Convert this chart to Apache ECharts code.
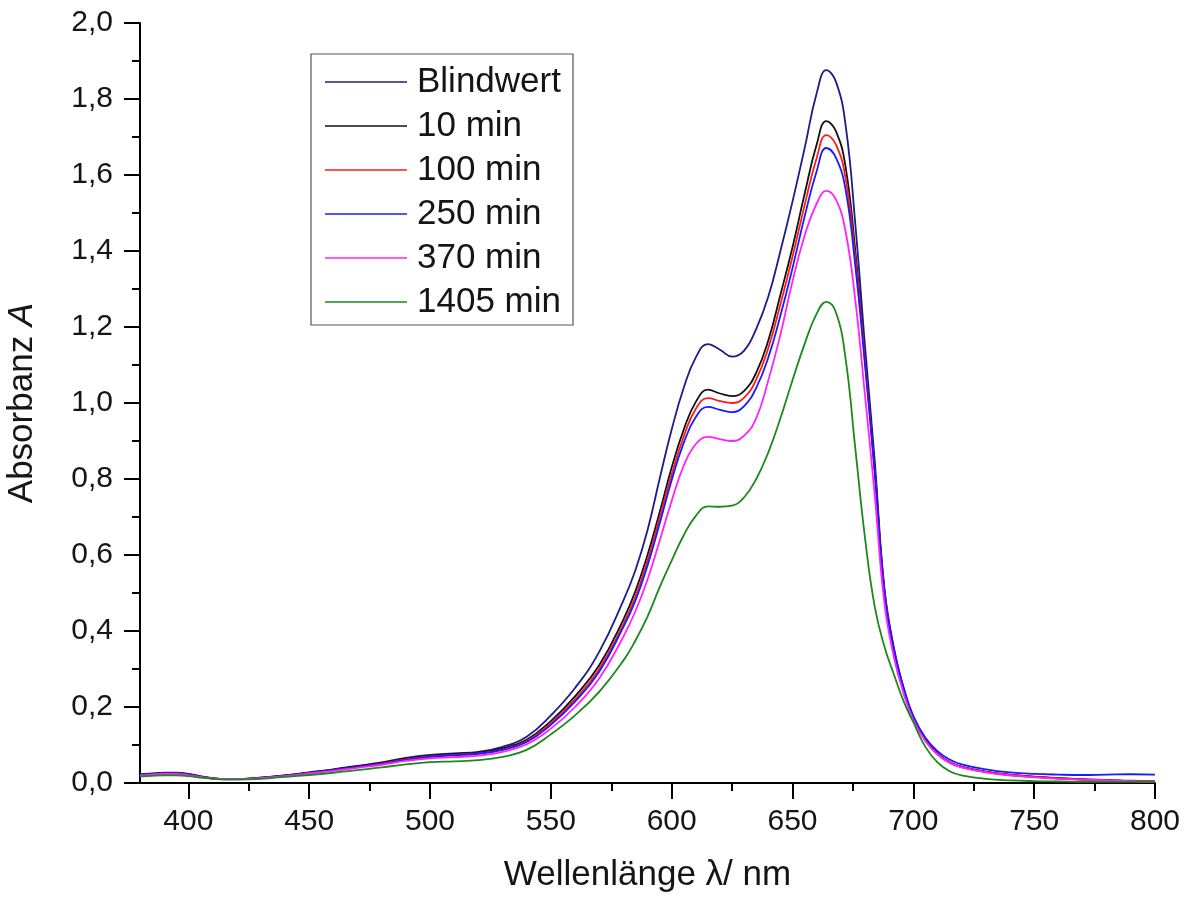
<!DOCTYPE html>
<html>
<head>
<meta charset="utf-8">
<title>Absorbanz</title>
<script src="https://cdn.jsdelivr.net/npm/echarts@6/dist/echarts.min.js"></script>
<style>
  html, body { margin: 0; padding: 0; background: #ffffff; }
  #chart { width: 1188px; height: 897px; }
</style>
</head>
<body>
<div id="chart"></div>
<script>
// Wellenlängen (nm) der Stützstellen
const wavelengths = [380,385,390,395,400,405,410,415,420,430,440,450,460,470,480,490,500,510,520,530,540,550,560,570,580,585,590,595,600,605,610,615,620,625,630,635,640,645,650,655,660,664,668,672,676,680,684,688,692,696,700,705,710,715,720,730,740,750,760,770,780,790,800];

// Absorbanz je Messzeitpunkt
const blindwert = [0.023,0.025,0.027,0.027,0.024,0.018,0.013,0.010,0.010,0.014,0.020,0.028,0.036,0.045,0.054,0.066,0.074,0.078,0.082,0.095,0.122,0.178,0.250,0.345,0.480,0.560,0.665,0.800,0.930,1.040,1.120,1.155,1.140,1.122,1.138,1.195,1.280,1.400,1.530,1.670,1.815,1.876,1.845,1.730,1.470,1.150,0.850,0.515,0.355,0.250,0.174,0.115,0.078,0.055,0.043,0.030,0.022,0.017,0.013,0.010,0.008,0.006,0.005];
const min10 = [0.022,0.024,0.026,0.026,0.023,0.017,0.012,0.010,0.010,0.014,0.020,0.027,0.035,0.044,0.053,0.064,0.072,0.076,0.080,0.091,0.114,0.163,0.228,0.310,0.430,0.505,0.600,0.712,0.830,0.930,1.003,1.035,1.025,1.018,1.032,1.080,1.165,1.285,1.410,1.550,1.680,1.742,1.715,1.620,1.400,1.120,0.830,0.505,0.345,0.245,0.172,0.113,0.077,0.054,0.042,0.029,0.021,0.016,0.012,0.009,0.007,0.005,0.004];
const min100 = [0.021,0.023,0.025,0.025,0.022,0.016,0.012,0.010,0.010,0.013,0.019,0.026,0.034,0.042,0.051,0.062,0.070,0.074,0.078,0.088,0.110,0.157,0.220,0.300,0.418,0.490,0.585,0.697,0.812,0.912,0.985,1.013,1.005,1.000,1.014,1.062,1.145,1.260,1.385,1.520,1.645,1.705,1.680,1.590,1.380,1.110,0.820,0.505,0.345,0.245,0.171,0.112,0.076,0.054,0.042,0.029,0.021,0.016,0.012,0.009,0.007,0.005,0.004];
const min250 = [0.021,0.023,0.025,0.025,0.022,0.016,0.012,0.010,0.010,0.013,0.019,0.026,0.034,0.042,0.050,0.061,0.069,0.073,0.077,0.087,0.108,0.153,0.214,0.293,0.410,0.480,0.572,0.682,0.797,0.895,0.963,0.990,0.982,0.976,0.992,1.040,1.120,1.230,1.355,1.490,1.610,1.671,1.645,1.560,1.360,1.100,0.820,0.505,0.350,0.250,0.176,0.119,0.084,0.062,0.049,0.036,0.028,0.024,0.022,0.021,0.022,0.023,0.022];
const min370 = [0.020,0.022,0.024,0.024,0.021,0.016,0.012,0.010,0.010,0.013,0.018,0.025,0.032,0.040,0.048,0.058,0.065,0.068,0.072,0.082,0.102,0.143,0.200,0.275,0.385,0.452,0.535,0.637,0.742,0.835,0.892,0.911,0.905,0.900,0.914,0.960,1.060,1.180,1.320,1.440,1.525,1.558,1.535,1.450,1.270,1.020,0.760,0.475,0.330,0.235,0.165,0.110,0.075,0.053,0.041,0.028,0.020,0.015,0.011,0.009,0.007,0.005,0.004];
const min1405 = [0.017,0.019,0.020,0.020,0.018,0.014,0.011,0.009,0.009,0.011,0.016,0.021,0.027,0.034,0.041,0.049,0.055,0.057,0.060,0.069,0.087,0.128,0.178,0.240,0.322,0.375,0.438,0.515,0.585,0.652,0.703,0.728,0.727,0.730,0.752,0.800,0.870,0.960,1.060,1.155,1.235,1.266,1.238,1.115,0.880,0.645,0.465,0.360,0.285,0.215,0.160,0.095,0.054,0.031,0.020,0.011,0.007,0.005,0.004,0.003,0.003,0.003,0.003];

const seriesNames = ['Blindwert', '10 min', '100 min', '250 min', '370 min', '1405 min'];
const seriesValues = [blindwert, min10, min100, min250, min370, min1405];
const seriesColors = ['#1c1c8a', '#111111', '#ff1a1a', '#1a1aff', '#ff22ff', '#1a8a1a'];

// Beschriftete und kleine Striche der Wellenlängenachse
const xMajorTicks = [400, 450, 500, 550, 600, 650, 700, 750, 800];
const xMinorTicks = [425, 475, 525, 575, 625, 675, 725, 775];

const FONT = '"Liberation Sans", Arial, sans-serif';
const INK = '#151515';

const chart = echarts.init(document.getElementById('chart'), null, { renderer: 'canvas' });

const series = seriesNames.map((name, k) => ({
  name: name,
  type: 'line',
  xAxisIndex: 0,
  yAxisIndex: 0,
  data: wavelengths.map((w, i) => [w, seriesValues[k][i]]),
  showSymbol: false,
  smooth: 0.45,
  lineStyle: { color: seriesColors[k], width: 1.8 },
  itemStyle: { color: seriesColors[k] },
  emphasis: { disabled: true },
  animation: false
}));

chart.setOption({
  backgroundColor: '#ffffff',
  animation: false,
  textStyle: { fontFamily: FONT },
  grid: { left: 140, right: 33, top: 23, bottom: 114, containLabel: false, outerBoundsMode: 'none' },
  legend: {
    data: seriesNames,
    orient: 'vertical',
    left: 311,
    top: 54,
    icon: 'path://M0,0 L100,0 L100,2 L0,2 Z',
    itemWidth: 82,
    itemHeight: 2,
    itemGap: 8,
    padding: [10, 12, 5, 14],
    borderColor: '#555555',
    borderWidth: 1.2,
    selectedMode: false,
    textStyle: {
      fontFamily: FONT,
      fontSize: 35,
      color: INK,
      lineHeight: 36,
      padding: [0, 0, 0, 5]
    }
  },
  xAxis: [
    {
      type: 'value',
      position: 'bottom',
      min: 380,
      max: 800,
      name: 'Wellenlänge λ/ nm',
      nameLocation: 'middle',
      nameMoveOverlap: false,
      nameGap: 75,
      nameTextStyle: { fontFamily: FONT, fontSize: 35, color: INK },
      axisLine: { show: true, onZero: false, lineStyle: { color: '#000', width: 2 } },
      axisTick: { show: true, inside: false, length: 16, customValues: xMajorTicks, lineStyle: { color: '#000', width: 2 } },
      axisLabel: { show: true, customValues: xMajorTicks, fontFamily: FONT, fontSize: 30, color: INK, margin: 24 },
      splitLine: { show: false }
    },
    {
      type: 'value',
      position: 'bottom',
      min: 380,
      max: 800,
      axisLine: { show: false, onZero: false },
      axisTick: { show: true, inside: false, length: 8, customValues: xMinorTicks, lineStyle: { color: '#000', width: 2 } },
      axisLabel: { show: false },
      splitLine: { show: false }
    }
  ],
  yAxis: {
    type: 'value',
    min: 0,
    max: 2,
    interval: 0.2,
    name: '{n|Absorbanz }{i|A}',
    nameLocation: 'middle',
    nameRotate: 90,
    nameMoveOverlap: false,
    nameGap: 100,
    nameTextStyle: {
      rich: {
        n: { fontFamily: FONT, fontSize: 35, color: INK },
        i: { fontFamily: FONT, fontSize: 35, fontStyle: 'italic', color: INK }
      }
    },
    axisLine: { show: true, onZero: false, lineStyle: { color: '#000', width: 2 } },
    axisTick: { show: true, inside: false, length: 16, lineStyle: { color: '#000', width: 2 } },
    minorTick: { show: true, splitNumber: 2, length: 8, lineStyle: { color: '#000', width: 2 } },
    axisLabel: {
      fontFamily: FONT, fontSize: 30, color: INK, margin: 27,
      formatter: v => v.toFixed(1).replace('.', ',')
    },
    splitLine: { show: false },
    minorSplitLine: { show: false }
  },
  series: series
});
</script>
</body>
</html>
